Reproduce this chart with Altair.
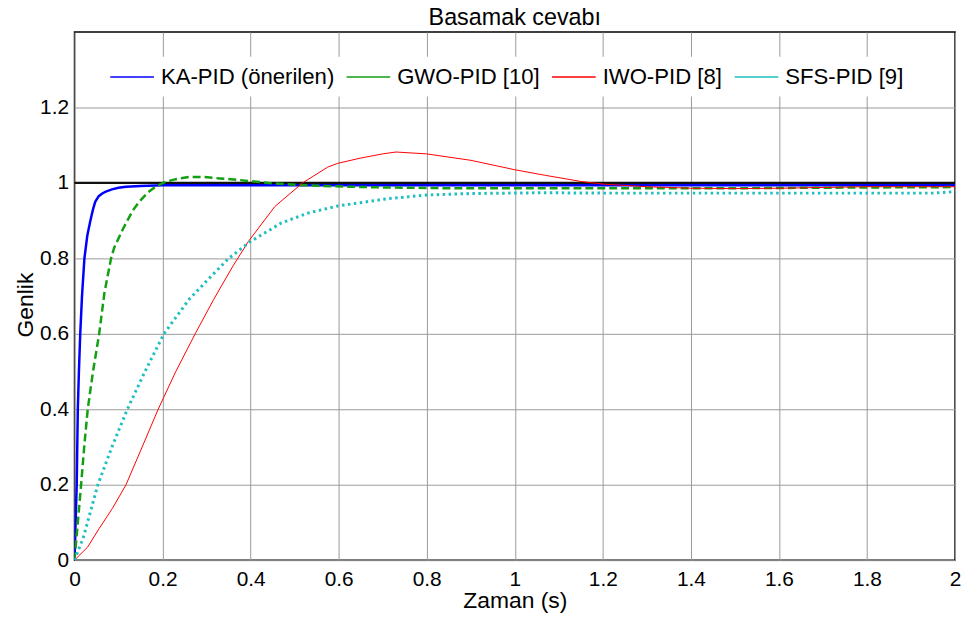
import altair as alt
import pandas as pd

FONT = "Liberation Sans, Arial, sans-serif"

series_names = ["KA-PID (önerilen)", "GWO-PID [10]", "IWO-PID [8]", "SFS-PID [9]"]
series_colors = ["#0000ff", "#12a012", "#ff0000", "#1fbfbf"]

ka_t = [0, 0.002, 0.005, 0.0075, 0.01, 0.013, 0.017, 0.0225, 0.029, 0.036, 0.042, 0.047,
        0.055, 0.063, 0.071, 0.085, 0.1, 0.117, 0.15, 0.2, 0.5, 1.0, 1.5, 2.0]
ka_v = [0, 0.08, 0.2, 0.4, 0.5, 0.6, 0.7, 0.8, 0.86, 0.9, 0.93, 0.95,
        0.965, 0.972, 0.977, 0.983, 0.987, 0.99, 0.992, 0.994, 0.994, 0.994, 0.994, 0.994]

gwo_t = [0, 0.0075, 0.015, 0.022, 0.03, 0.042, 0.056, 0.068, 0.083, 0.09, 0.1, 0.11, 0.12,
         0.133, 0.147, 0.165, 0.184, 0.207, 0.23, 0.26, 0.29, 0.33, 0.372, 0.44, 0.52, 0.62,
         0.71, 0.85, 1.0, 1.5, 1.8, 2.0]
gwo_v = [0, 0.1, 0.2, 0.3, 0.4, 0.5, 0.6, 0.709, 0.8, 0.828, 0.853, 0.878, 0.9,
         0.928, 0.95, 0.973, 0.99, 1.003, 1.01, 1.016, 1.016, 1.012, 1.008, 1.0, 0.994, 0.99,
         0.988, 0.986, 0.986, 0.986, 0.988, 0.989]

iwo_t = [0, 0.03, 0.056, 0.086, 0.117, 0.15, 0.19, 0.23, 0.274, 0.316, 0.36, 0.395, 0.455, 0.518,
         0.575, 0.598, 0.65, 0.7, 0.73, 0.8, 0.9, 1.0, 1.07, 1.15, 1.2, 1.3, 1.4, 1.5, 1.6, 1.7,
         1.8, 1.9, 2.0]
iwo_v = [0, 0.035, 0.084, 0.137, 0.2, 0.29, 0.4, 0.5, 0.6, 0.691, 0.78, 0.845, 0.9375, 1.0,
         1.042, 1.052, 1.066, 1.077, 1.082, 1.077, 1.06, 1.035, 1.02, 1.004, 0.997, 0.99, 0.986,
         0.985, 0.986, 0.988, 0.99, 0.99, 0.99]

sfs_t = [0, 0.02, 0.053, 0.085, 0.12, 0.16, 0.203, 0.26, 0.3, 0.35, 0.4, 0.47, 0.53, 0.598,
         0.71, 0.8, 0.9, 1.07, 1.2, 1.6, 1.95, 2.0]
sfs_v = [0, 0.06, 0.2, 0.3, 0.4, 0.5, 0.6, 0.691, 0.74, 0.8, 0.845, 0.894, 0.92, 0.939,
         0.958, 0.968, 0.972, 0.974, 0.973, 0.973, 0.973, 0.977]

x_ticks = [0, 0.2, 0.4, 0.6, 0.8, 1, 1.2, 1.4, 1.6, 1.8, 2]
y_ticks = [0, 0.2, 0.4, 0.6, 0.8, 1, 1.2]

series_data = [(ka_t, ka_v), (gwo_t, gwo_v), (iwo_t, iwo_v), (sfs_t, sfs_v)]
line_styles = [
    dict(strokeWidth=2.5),
    dict(strokeWidth=2.5, strokeDash=[8, 4]),
    dict(strokeWidth=1),
    dict(strokeWidth=3, strokeDash=[2.5, 3.5]),
]

x_enc = alt.X("t:Q", scale=alt.Scale(domain=[0, 2], nice=False, zero=False),
              axis=alt.Axis(values=x_ticks, format="~g", title="Zaman (s)",
                            titleX=443.5, titleY=48, titleAlign="center",
                            titleBaseline="alphabetic"))
y_enc = alt.Y("v:Q", scale=alt.Scale(domain=[0, 1.4], nice=False),
              axis=alt.Axis(values=y_ticks, format="~g", title="Genlik",
                            titleX=-42, titleY=274.5, titleAngle=270, titleAlign="center",
                            titleBaseline="alphabetic"))

color_enc = alt.Color(
    "series:N",
    scale=alt.Scale(domain=series_names, range=series_colors),
    sort=series_names,
    legend=alt.Legend(
        title=None, orient="none", direction="horizontal", legendX=38, legendY=25,
        symbolType="M-2,0H2", symbolSize=484, symbolStrokeWidth=1.5, symbolDash=[1, 0],
        symbolFillColor="transparent",
        labelFontSize=22.3, labelFont=FONT, labelColor="black", labelOffset=17,
        columnPadding=9, fillColor="white", padding=8, labelLimit=400,
    ),
)

ref = alt.Chart(pd.DataFrame({"y": [1.0]})).mark_rule(color="#111111", strokeWidth=2.2).encode(
    y=alt.Y("y:Q", scale=alt.Scale(domain=[0, 1.4], nice=False))
)

layers = [ref]
for name, (ts, vs), style in zip(series_names, series_data, line_styles):
    d = pd.DataFrame({"t": ts, "v": vs, "series": name, "order": list(range(len(ts)))})
    layers.append(
        alt.Chart(d).mark_line(clip=True, **style).encode(
            x=x_enc, y=y_enc, color=color_enc, order="order:Q"
        )
    )

chart = alt.layer(*layers).properties(
    width=887, height=532,
    autosize=alt.AutoSizeParams(type="none"),
    padding={"left": 67, "top": 22, "right": 6, "bottom": 52},
    title=alt.TitleParams("Basamak cevabı", fontSize=23.5, font=FONT, fontWeight="normal",
                          offset=3, anchor="middle", color="black"),
).configure_view(
    stroke="black", strokeWidth=1.5
).configure_axis(
    domain=False, ticks=False, grid=True, gridColor="#9a9a9a", gridOpacity=1, gridWidth=1,
    labelFont=FONT, labelFontSize=21, labelColor="black",
    titleFont=FONT, titleFontSize=23, titleFontWeight="normal", titleColor="black",
).configure_axisX(labelFlush=False, labelPadding=9).configure_axisY(labelPadding=6)

chart.save("out.html", embed_options={"renderer": "svg", "actions": False})
